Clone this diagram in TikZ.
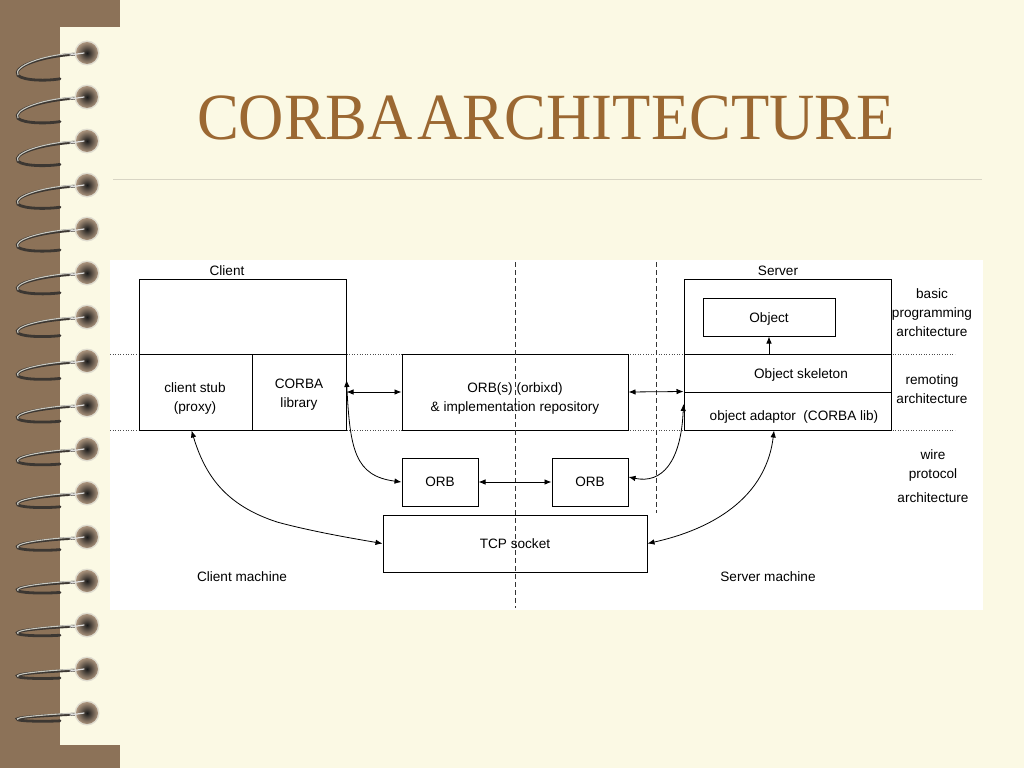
\documentclass[tikz,border=0pt]{standalone}
\usepackage{fontspec}
\setmainfont{Liberation Serif}
\newfontfamily\diagfont{Liberation Sans}
\usetikzlibrary{arrows.meta}
\definecolor{cream}{RGB}{251,249,228}
\definecolor{brownbg}{RGB}{140,114,88}
\definecolor{titlec}{RGB}{155,104,50}
\definecolor{rulec}{RGB}{216,213,196}
\definecolor{wiredark}{RGB}{60,55,50}
\definecolor{wirelight}{RGB}{200,200,192}
\tikzset{
  box/.style={draw, line width=1pt, inner sep=0pt, font=\diagfont\fontsize{13.6}{19.5}\selectfont, align=center},
  lbl/.style={inner sep=0pt, font=\diagfont\fontsize{13.6}{19}\selectfont, align=center},
  conn/.style={line width=0.8pt, {Latex[length=7pt,width=5.5pt]}-{Latex[length=7pt,width=5.5pt]}},
  oneway/.style={line width=0.8pt, -{Latex[length=7pt,width=5.5pt]}},
  dotline/.style={line width=0.6pt, dotted, black!70},
  dashline/.style={line width=0.8pt, dash pattern=on 5pt off 3pt, black!80},
}
\begin{document}
\begin{tikzpicture}[x=1pt,y=-1pt]
\useasboundingbox (0,0) rectangle (1024,768);
% background
\fill[cream] (0,0) rectangle (1024,768);
\fill[brownbg] (0,0) rectangle (60,768);
\fill[brownbg] (0,0) rectangle (120,27);
\fill[brownbg] (0,745) rectangle (120,768);
% spiral rings
\foreach \k in {0,...,15}{
  \pgfmathsetmacro{\yy}{53+44*\k}
  \pgfmathsetmacro{\dd}{28-1.3*\k}
  \draw[wiredark, line width=2.8pt, line cap=round] (78,\yy+1) .. controls (40,\yy+3) and (12,\yy+0.5*\dd) .. (18,\yy+0.8*\dd) .. controls (24,\yy+\dd) and (48,\yy+\dd) .. (60,\yy+0.92*\dd);
  \draw[wirelight, line width=1.1pt, line cap=round] (76,\yy) .. controls (40,\yy+2) and (13,\yy+0.5*\dd) .. (18,\yy+0.78*\dd);
  \fill[rulec!80!white] (87,\yy) circle (12.5);
  \shade[inner color=black!90, outer color=black!40!brown!60] (87,\yy) circle (11);
  \draw[white!75!gray, line width=1.2pt, line cap=round] (70,\yy+2) -- (84,\yy);
}
% title
\node[titlec, anchor=base, inner sep=0pt] (title) at (546,139) {\scalebox{0.95}[1]{\fontsize{66}{70}\selectfont CORBA\hspace{5pt}ARCHITECTURE}};
\draw[rulec, line width=1pt] (113,179) -- (982,179);
% white diagram area
\fill[white] (110,260) rectangle (983,610);
% layer dotted lines
\draw[dotline] (110,354) -- (955,354);
\draw[dotline] (110,430) -- (955,430);
% client side
\node[lbl] (clientlbl) at (227,271) {Client};
\node[box, minimum width=207pt, minimum height=75pt] (clienttop) at (242.5,316.5) {};
\node[box, minimum width=113pt, minimum height=76pt] (stub) at (195.5,392) {};
\node[box, minimum width=94pt, minimum height=76pt] (lib) at (299,392) {};
\node[lbl] (stubtext) at (195,398) {client stub\\(proxy)};
\node[lbl] (libtext) at (299,395) {CORBA\\library};
% ORB(s)
\node[box, minimum width=226pt, minimum height=76pt] (orbs) at (515,392) {};
\node[lbl] (orbstext) at (515,398) {ORB(s) (orbixd)\\\& implementation repository};
% server side
\node[lbl] (serverlbl) at (778,271) {Server};
\node[box, minimum width=207pt, minimum height=75pt] (servertop) at (787.5,316.5) {};
\node[box, minimum width=132pt, minimum height=38pt] (object) at (769,317) {};
\node[lbl] (objtext) at (769,319) {Object};
\node[box, minimum width=207pt, minimum height=38pt] (skeleton) at (787.5,373) {};
\node[box, minimum width=207pt, minimum height=38pt] (adaptor) at (787.5,411) {};
\node[lbl] (skeltext) at (801,375) {Object skeleton};
\node[lbl] (adaptext) at (794,417) {object adaptor\ \ (CORBA lib)};
% wire level
\node[box, minimum width=76pt, minimum height=48pt] (orbL) at (440,482) {ORB};
\node[box, minimum width=76pt, minimum height=48pt] (orbR) at (590,482) {ORB};
\node[box, minimum width=264pt, minimum height=57pt] (tcp) at (515,543.5) {TCP socket};
% right labels
\node[lbl, font=\diagfont\fontsize{13.6}{19}\selectfont] (basic) at (932,313) {basic\\programming\\architecture};
\node[lbl, font=\diagfont\fontsize{13.6}{18.5}\selectfont] (remoting) at (932,389) {remoting\\architecture};
\node[lbl, font=\diagfont\fontsize{13.6}{18.5}\selectfont] (wire) at (933,476) {wire\\protocol\\[5.5pt]architecture};
\node[lbl] (clientm) at (242,577) {Client machine};
\node[lbl] (serverm) at (768,577) {Server machine};
% machine separators
\draw[dashline] (515,262) -- (515,608);
\draw[dashline] (656,262) -- (656,513);
% connectors
\draw[conn] (lib.east) -- (orbs.west);
\draw[conn] (orbs.east) -- (adaptor.north west);
\draw[conn] (orbL.east) -- (orbR.west);
\draw[oneway] (object.south |- skeleton.north) -- (object.south);
\draw[conn] ([xshift=-4pt]stub.south) .. controls (205,475) and (225,505) .. (277,522) .. controls (310,531) and (350,538) .. (tcp.west);
\draw[conn] ([yshift=12pt]lib.east) .. controls (350,450) and (355,476) .. (orbL.west);
\draw[conn] ([yshift=5pt]orbR.east) .. controls (662,484) and (681,462) .. ([yshift=7pt]adaptor.west);
\draw[conn] (tcp.east) .. controls (700,532) and (765,505) .. ([xshift=-13.5pt]adaptor.south);
\end{tikzpicture}
\end{document}
